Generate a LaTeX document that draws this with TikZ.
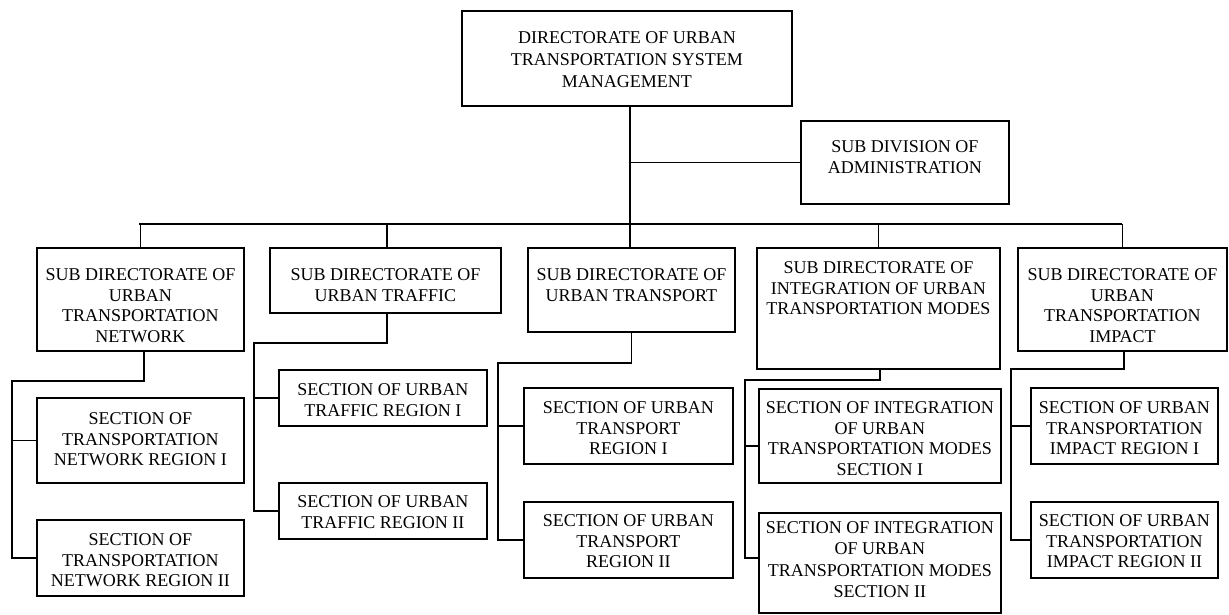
\documentclass[tikz,border=0pt]{standalone}
\usepackage{fontspec}
\setmainfont{Liberation Serif}
\begin{document}
\begin{tikzpicture}[x=1pt,y=-1pt,
  unitbox/.style={draw, line width=1.9pt, inner sep=0pt, anchor=north west,
    font=\fontsize{18}{20.5}\selectfont},
  link/.style={line width=1.8pt}]
% \orgbox{name}{x1}{y1}{x2}{y2}{first baseline offset}{text}
\newcommand\orgbox[7]{%
  \node[unitbox, minimum width={(#4-#2)*1pt}, minimum height={(#5-#3)*1pt},
        text height={#6*1pt}, text depth={(#5-#3-#6)*1pt}] (#1) at (#2,#3)
        {\parbox[t]{\dimexpr#4pt-#2pt-2pt\relax}{\centering
          \leftskip=0pt plus 1fil minus 8pt\rightskip=0pt plus 1fil minus 8pt
          #7}};}

\useasboundingbox (0,0) rectangle (1229,615);

% head and staff unit
\orgbox{top}{461}{10}{791}{105}{33}{DIRECTORATE OF URBAN\\[1.5pt]TRANSPORTATION SYSTEM\\[1.5pt]MANAGEMENT}
\orgbox{adm}{800}{120}{1008}{203}{32}{SUB DIVISION OF\\ADMINISTRATION}

% sub directorates
\orgbox{net}{36}{247}{243}{350}{33}{SUB DIRECTORATE OF\\URBAN\\TRANSPORTATION\\NETWORK}
\orgbox{trf}{269}{247}{500}{312}{33}{SUB DIRECTORATE OF\\URBAN TRAFFIC}
\orgbox{tr}{527}{247}{734}{331}{33}{SUB DIRECTORATE OF\\URBAN TRANSPORT}
\orgbox{int}{756}{247}{999}{368}{26}{SUB DIRECTORATE OF\\INTEGRATION OF URBAN\\TRANSPORTATION MODES}
\orgbox{imp}{1017}{247}{1226}{350}{33}{SUB DIRECTORATE OF\\URBAN\\TRANSPORTATION\\IMPACT}

% sections
\orgbox{net1}{36}{397}{243}{482}{27}{SECTION OF\\TRANSPORTATION\\NETWORK REGION I}
\orgbox{net2}{36}{519}{243}{595}{26}{SECTION OF\\TRANSPORTATION\\NETWORK REGION II}
\orgbox{trf1}{278}{369}{486}{425}{26}{SECTION OF URBAN\\TRAFFIC REGION I}
\orgbox{trf2}{278}{482}{486}{538}{25}{SECTION OF URBAN\\TRAFFIC REGION II}
\orgbox{tr1}{523}{387}{732}{463}{26}{SECTION OF URBAN\\TRANSPORT\\REGION I}
\orgbox{tr2}{523}{501}{732}{577}{25}{SECTION OF URBAN\\TRANSPORT\\REGION II}
\orgbox{int1}{758}{388}{1000}{482}{25}{SECTION OF INTEGRATION\\OF URBAN\\TRANSPORTATION MODES\\SECTION I}
\orgbox{int2}{758}{512}{1000}{612}{21}{SECTION OF INTEGRATION\\OF URBAN\hspace*{16pt}\\[2pt]TRANSPORTATION MODES\\SECTION II}
\orgbox{imp1}{1030}{387}{1217}{463}{26}{SECTION OF URBAN\\TRANSPORTATION\\IMPACT REGION I}
\orgbox{imp2}{1030}{501}{1217}{577}{25}{SECTION OF URBAN\\TRANSPORTATION\\IMPACT REGION II}

% main bus and trunk
\coordinate (busL) at (139,224);
\coordinate (busR) at (1122,224);
\draw[link] (busL) -- (busR);
\draw[link] ([xshift=3pt]top.south) -- ([xshift=3pt]top.south |- tr.north);
\draw[link,line width=1.4pt] (adm.west) -- ([xshift=3pt]top.south |- adm.west);
\draw[link] (net.north) -- (net.north |- busL);
\draw[link] ([xshift=1.5pt]trf.north) -- ([xshift=1.5pt]trf.north |- busL);
\draw[link] (int.north) -- (int.north |- busL);
\draw[link] (imp.north) -- (imp.north |- busL);

% network sections
\coordinate (netj) at (12,381);
\draw[link] ([xshift=3.5pt]net.south) |- (netj) |- (net2.west);
\draw[link] (netj |- net1.west) -- (net1.west);

% traffic sections
\coordinate (trfj) at (254,343);
\draw[link] ([xshift=1.5pt]trf.south) |- (trfj) |- (trf2.west);
\draw[link] (trfj |- trf1.west) -- (trf1.west);

% transport sections
\coordinate (trj) at (498,363);
\draw[link] (tr.south) |- (trj) |- (tr2.west);
\draw[link] (trj |- tr1.west) -- (tr1.west);

% integration sections
\coordinate (intj) at (745,380);
\coordinate (int1in) at ([yshift=-10pt]int1.west);
\coordinate (int2in) at ([yshift=5pt]int2.west);
\draw[link] ([xshift=1.5pt]int.south) |- (intj) |- (int2in);
\draw[link] (intj |- int1in) -- (int1in);

% impact sections
\coordinate (impj) at (1011,369);
\draw[link] ([xshift=1.5pt]imp.south) |- (impj) |- (imp2.west);
\draw[link] (impj |- imp1.west) -- (imp1.west);
\end{tikzpicture}
\end{document}
